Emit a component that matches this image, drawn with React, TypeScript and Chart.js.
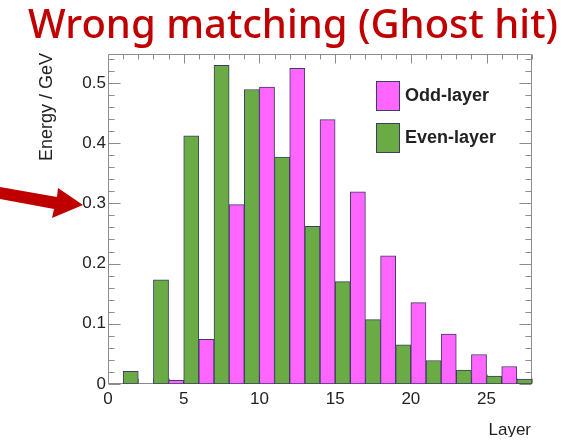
import React, { useEffect, useRef } from 'react';
import { Chart, registerables } from 'chart.js';

Chart.register(...registerables);

// ---- data ----
const oddLayers = [1, 3, 5, 7, 9, 11, 13, 15, 17, 19, 21, 23, 25, 27];
const oddEnergy = [0, 0, 0.006, 0.074, 0.298, 0.493, 0.524, 0.439, 0.319, 0.213, 0.135, 0.083, 0.049, 0.029];
const evenLayers = [2, 4, 6, 8, 10, 12, 14, 16, 18, 20, 22, 24, 26, 28];
const evenEnergy = [0.021, 0.173, 0.412, 0.529, 0.489, 0.377, 0.262, 0.17, 0.107, 0.065, 0.039, 0.023, 0.013, 0.008];
const xTickValues = [0, 5, 10, 15, 20, 25];
const yTickValues = [0, 0.1, 0.2, 0.3, 0.4, 0.5];

const TITLE = 'Wrong matching (Ghost hit)';
const X_TITLE = 'Layer';
const Y_TITLE = 'Energy / GeV';
const ODD_LABEL = 'Odd-layer';
const EVEN_LABEL = 'Even-layer';

// ---- styles ----
const PINK = '#ff66ff';
const GREEN = '#6aab46';
const EDGE = '#3c3c64';
const FRAME = '#8c8c8c';
const RED = '#c00000';
const TEXT = '#222222';
const SANS = '"Liberation Sans", Arial, Helvetica, sans-serif';

const rootFrame = {
  id: 'rootFrame',
  beforeDatasetsDraw(chart: any) {
    const { ctx, chartArea: a, scales } = chart;
    const xs = scales.x;
    const ys = scales.y;
    const L = Math.round(a.left) + 0.5;
    const R = Math.round(a.right) - 0.5;
    const T = Math.round(a.top) + 0.5;
    const B = Math.round(a.bottom) - 0.5;
    ctx.save();
    ctx.strokeStyle = FRAME;
    ctx.lineWidth = 1;
    ctx.beginPath();
    ctx.rect(L, T, R - L, B - T);
    // x ticks (bottom + top, inward)
    for (let i = 0; i <= 28; i++) {
      const px = Math.round(xs.getPixelForValue(i)) + 0.5;
      const len = i % 5 === 0 ? 9 : 5;
      ctx.moveTo(px, B);
      ctx.lineTo(px, B - len);
      ctx.moveTo(px, T);
      ctx.lineTo(px, T + len);
    }
    // y ticks (left + right, inward)
    for (let i = 0; i * 0.02 <= ys.max + 1e-9; i++) {
      const py = Math.round(ys.getPixelForValue(i * 0.02)) + 0.5;
      const len = i % 5 === 0 ? 12 : 6;
      ctx.moveTo(L, py);
      ctx.lineTo(L + len, py);
      ctx.moveTo(R, py);
      ctx.lineTo(R - len, py);
    }
    ctx.stroke();
    ctx.restore();
  },
  afterDraw(chart: any) {
    const { ctx, chartArea: a, data } = chart;
    ctx.save();
    // title
    ctx.font = '500 40px "Noto Sans", sans-serif';
    ctx.fillStyle = RED;
    ctx.textAlign = 'center';
    ctx.textBaseline = 'alphabetic';
    ctx.fillText(TITLE, 293, 38);
    // legend
    const bx = a.left + 268;
    const by = a.top + 27;
    data.datasets.forEach((ds: any, i: number) => {
      const y0 = by + i * 42;
      ctx.fillStyle = ds.backgroundColor;
      ctx.fillRect(bx, y0, 24, 30);
      ctx.strokeStyle = EDGE;
      ctx.lineWidth = 1;
      ctx.strokeRect(bx + 0.5, y0 + 0.5, 23, 29);
      ctx.fillStyle = TEXT;
      ctx.font = 'bold 18px ' + SANS;
      ctx.textAlign = 'left';
      ctx.textBaseline = 'middle';
      ctx.fillText(ds.label, bx + 29, y0 + 15);
    });
    // y axis title
    ctx.save();
    ctx.translate(47, a.top - 1);
    ctx.rotate(-Math.PI / 2);
    ctx.font = '18px ' + SANS;
    ctx.fillStyle = TEXT;
    ctx.textAlign = 'right';
    ctx.textBaseline = 'middle';
    ctx.fillText(Y_TITLE, 0, 0);
    ctx.restore();
    // x axis title (bottom cropped like the reference)
    ctx.save();
    ctx.beginPath();
    ctx.rect(0, 0, chart.width, 437);
    ctx.clip();
    ctx.font = '17px ' + SANS;
    ctx.fillStyle = TEXT;
    ctx.textAlign = 'right';
    ctx.textBaseline = 'alphabetic';
    ctx.fillText(X_TITLE, a.right - 1, 435);
    ctx.restore();
    // red arrow
    ctx.fillStyle = RED;
    ctx.beginPath();
    ctx.moveTo(0, 187);
    ctx.lineTo(57, 197);
    ctx.lineTo(58, 188);
    ctx.lineTo(83, 205);
    ctx.lineTo(52, 218);
    ctx.lineTo(54, 209);
    ctx.lineTo(0, 199);
    ctx.closePath();
    ctx.fill();
    ctx.restore();
  },
};

export default function App() {
  const ref = useRef<HTMLCanvasElement>(null);
  useEffect(() => {
    const canvas = ref.current;
    if (!canvas) return;
    const barCommon = {
      borderColor: EDGE,
      borderWidth: 1,
      borderSkipped: false,
      grouped: false,
      barPercentage: 1,
      categoryPercentage: 1,
    };
    const chart = new Chart(canvas, {
      type: 'bar',
      data: {
        datasets: [
          {
            label: ODD_LABEL,
            data: oddLayers.map((l, i) => ({ x: l - 0.5, y: oddEnergy[i] })),
            backgroundColor: PINK,
            ...barCommon,
          } as any,
          {
            label: EVEN_LABEL,
            data: evenLayers.map((l, i) => ({ x: l - 0.5, y: evenEnergy[i] })),
            backgroundColor: GREEN,
            ...barCommon,
          } as any,
        ],
      },
      options: {
        responsive: false,
        animation: false,
        layout: { padding: { left: 0, right: 52, top: 54, bottom: 0 } },
        plugins: {
          legend: { display: false },
          tooltip: { enabled: false },
          title: { display: false },
        },
        scales: {
          x: {
            type: 'linear',
            min: 0,
            max: 28,
            offset: false,
            grid: { display: false, drawTicks: false },
            border: { display: false },
            ticks: {
              color: TEXT,
              font: { family: SANS, size: 17 },
              padding: 5,
              maxRotation: 0,
              autoSkip: false,
              includeBounds: false,
            },
            afterBuildTicks: (s: any) => {
              s.ticks = xTickValues.map((v) => ({ value: v }));
            },
            afterFit: (s: any) => {
              s.height = 57;
            },
          },
          y: {
            type: 'linear',
            min: 0,
            max: 0.548,
            grid: { display: false, drawTicks: false },
            border: { display: false },
            ticks: {
              color: TEXT,
              font: { family: SANS, size: 17 },
              padding: 2,
              includeBounds: false,
            },
            afterBuildTicks: (s: any) => {
              s.ticks = yTickValues.map((v) => ({ value: v }));
            },
            afterFit: (s: any) => {
              s.width = 108;
            },
          },
        },
      } as any,
      plugins: [rootFrame],
    });
    return () => chart.destroy();
  }, []);
  return (
    <div style={{ position: 'fixed', left: 0, top: 0, width: 584, height: 441, background: '#ffffff' }}>
      <canvas ref={ref} width={584} height={441} style={{ display: 'block' }} />
    </div>
  );
}
